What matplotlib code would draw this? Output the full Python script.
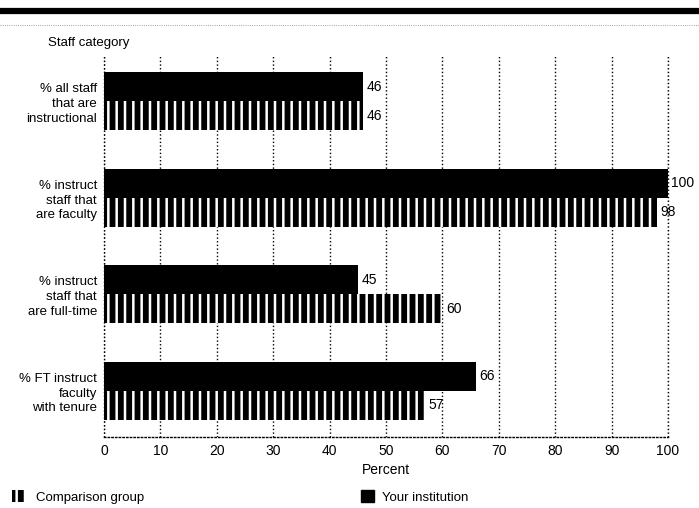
import matplotlib
matplotlib.use('Agg')
import matplotlib.pyplot as plt
import matplotlib.patches as mpatches
import numpy as np

plt.rcParams['font.family'] = ['Liberation Sans Narrow', 'Liberation Sans', 'DejaVu Sans']
plt.rcParams['hatch.linewidth'] = 4.2

categories = ['% all staff\nthat are\ninstructional',
              '% instruct\nstaff that\nare faculty',
              '% instruct\nstaff that\nare full-time',
              '% FT instruct\nfaculty\nwith tenure']
institution = [46, 100, 45, 66]
comparison = [46, 98, 60, 57]
xticks = [0, 10, 20, 30, 40, 50, 60, 70, 80, 90, 100]

fig = plt.figure(figsize=(6.99, 5.08), dpi=100)
ax = fig.add_axes([104/699, 1 - 437/508, 564/699, 382/508])

pos = np.arange(len(categories))
h = 0.3
ax.barh(pos - h/2, institution, height=h, color='black', zorder=3)
ax.barh(pos + h/2, comparison, height=h, facecolor='white', edgecolor='black',
        hatch='||', linewidth=0, zorder=3)

for p, v in zip(pos, institution):
    ax.text(v + 0.6, p - h/2, str(v), va='center', ha='left', fontsize=10)
for p, v in zip(pos, comparison):
    ax.text(v + 0.6, p + h/2, str(v), va='center', ha='left', fontsize=10)

ax.set_xlim(0, 100)
ax.set_ylim(3.48, -0.48)
ax.set_yticks(pos)
ax.set_yticklabels(categories, fontsize=9.5, ha='right', linespacing=1.3)
ax.set_xticks(xticks)
ax.set_xticklabels([str(t) for t in xticks], fontsize=10)
ax.tick_params(axis='both', length=0, pad=5)
ax.tick_params(axis='y', pad=5)
for s in ['top', 'right', 'left']:
    ax.spines[s].set_visible(False)
ax.spines['bottom'].set_linestyle(':')
ax.spines['bottom'].set_linewidth(1)
ax.xaxis.grid(True, linestyle=':', color='black', linewidth=1, zorder=0)
ax.axvline(0, linestyle=':', color='black', linewidth=1, zorder=0, clip_on=False)
ax.axvline(100, linestyle=':', color='black', linewidth=1, zorder=0, clip_on=False)
ax.set_xlabel('Percent', fontsize=10, labelpad=4)

fig.text(48/699, 1 - 43/508, 'Staff category', fontsize=9.5, va='center', ha='left')

# top rule
fig.add_artist(plt.Line2D([0, 1], [1 - 11/508, 1 - 11/508], color='black', linewidth=4.5))
fig.add_artist(plt.Line2D([0, 1], [1 - 25/508, 1 - 25/508], color='grey', linewidth=0.6, linestyle=':'))

h1 = mpatches.Patch(facecolor='white', edgecolor='black', hatch='||', linewidth=0)
h2 = mpatches.Patch(facecolor='black', edgecolor='black')
fig.legend([h1], ['Comparison group'], loc='center left', bbox_to_anchor=(0.0, 1 - 497/508),
           frameon=False, fontsize=9.5, handlelength=1.0, handleheight=1.0, handletextpad=0.8)
fig.legend([h2], ['Your institution'], loc='center left', bbox_to_anchor=(349/699, 1 - 497/508),
           frameon=False, fontsize=9.5, handlelength=1.0, handleheight=1.0, handletextpad=0.6)

fig.savefig('out.png', dpi=100)
